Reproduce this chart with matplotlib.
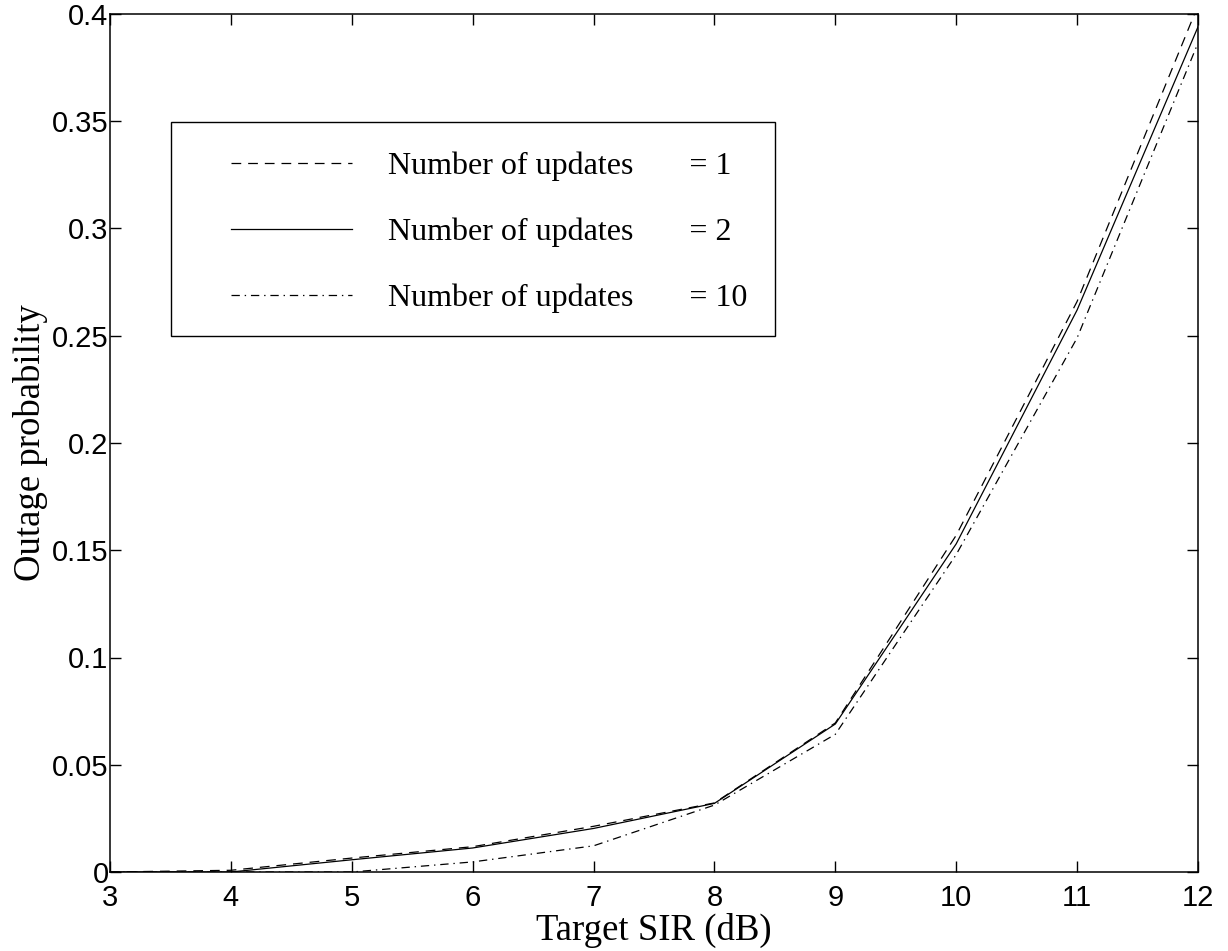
import matplotlib
matplotlib.use("Agg")
import matplotlib.pyplot as plt
from matplotlib.patches import Rectangle

plt.rcParams['lines.scale_dashes'] = False

# Target SIR values (dB)
target_sir = [3, 4, 5, 6, 7, 8, 9, 10, 11, 12]

# Outage probability for each number of power-control updates
outage_1 = [0.0, 0.0008, 0.0065, 0.0118, 0.0213, 0.0322, 0.0695, 0.157, 0.266, 0.404]
outage_2 = [0.0, 0.0, 0.0057, 0.0112, 0.0203, 0.0320, 0.0690, 0.153, 0.262, 0.394]
outage_10 = [0.0, 0.0, 0.0, 0.0047, 0.0122, 0.0312, 0.0642, 0.148, 0.249, 0.3865]

labels = ["Number of updates       = 1",
          "Number of updates       = 2",
          "Number of updates       = 10"]

xticks = [3, 4, 5, 6, 7, 8, 9, 10, 11, 12]
yticks = [0, 0.05, 0.1, 0.15, 0.2, 0.25, 0.3, 0.35, 0.4]
ytick_labels = ["0", "0.05", "0.1", "0.15", "0.2", "0.25", "0.3", "0.35", "0.4"]

fig = plt.figure(figsize=(12.28, 9.51), dpi=100)
ax = fig.add_axes([110 / 1228, 79 / 951, 1088 / 1228, 858 / 951])

lw = 0.9
l1, = ax.plot(target_sir, outage_1, color='black', lw=lw, dashes=(7, 5))
l2, = ax.plot(target_sir, outage_2, color='black', lw=lw, linestyle='-')
l3, = ax.plot(target_sir, outage_10, color='black', lw=lw, dashes=(6, 3.5, 1, 3.5))

ax.set_xlim(3, 12)
ax.set_ylim(0, 0.4)
ax.set_xticks(xticks)
ax.set_xticklabels([str(v) for v in xticks])
ax.set_yticks(yticks)
ax.set_yticklabels(ytick_labels)

for s in ax.spines.values():
    s.set_linewidth(1.1)

ax.tick_params(axis='both', direction='in', length=8, width=1.0,
               top=True, right=True, labelsize=21)
ax.tick_params(axis='x', pad=9)
ax.tick_params(axis='y', pad=1)
for t in ax.get_xticklabels() + ax.get_yticklabels():
    t.set_family('Liberation Sans')

ax.set_xlabel("Target SIR (dB)", family='Liberation Serif', fontsize=26.5, labelpad=0)
ax.set_ylabel("Outage probability", family='Liberation Serif', fontsize=26.5, labelpad=3)

# Legend box drawn as a plain rectangle, entries placed inside it
box = Rectangle(((171 - 110) / 1088, (872 - 336) / 858), (775 - 171) / 1088, (336 - 122) / 858,
                transform=ax.transAxes, fill=True, facecolor='white',
                edgecolor='black', linewidth=1.0, zorder=5)
ax.add_patch(box)
leg = ax.legend([l1, l2, l3], labels, loc='upper left',
                bbox_to_anchor=((231 - 110) / 1088, (872 - 152) / 858),
                frameon=False, prop={'family': 'Liberation Serif', 'size': 23},
                handlelength=3.8, handletextpad=1.1, labelspacing=1.13,
                borderpad=0.0, borderaxespad=0.0)
leg.set_zorder(6)

fig.savefig("out.png", dpi=100)
